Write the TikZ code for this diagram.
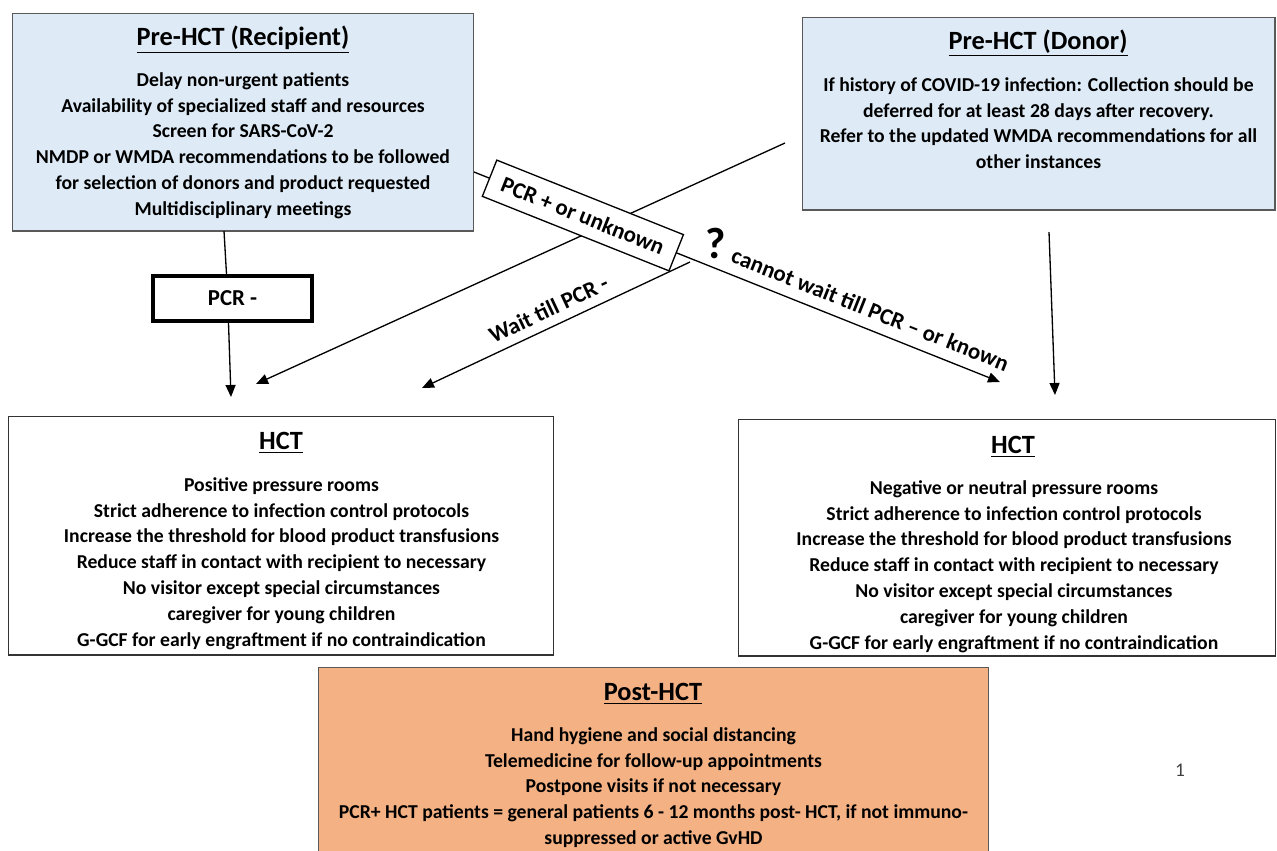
\documentclass[tikz,border=0pt]{standalone}
\usepackage{fontspec}
\setmainfont{Carlito}
\usetikzlibrary{arrows.meta,calc}
\definecolor{preblue}{HTML}{DEEBF7}
\definecolor{postorange}{HTML}{F4B183}
\definecolor{boxgray}{HTML}{595959}
\begin{document}
\begin{tikzpicture}[x=0.02cm, y=-0.02cm,
    panel/.style={draw=boxgray, line width=0.6pt, inner sep=0pt},
    title/.style={font=\fontsize{15}{18}\selectfont\bfseries},
    body/.style={font=\fontsize{11.2}{14.7}\selectfont\bfseries, align=center, inner sep=0pt, anchor=north},
    tag/.style={font=\fontsize{13}{15}\selectfont\bfseries},
    link/.style={line width=0.75pt, -{Triangle[length=0.24cm, width=0.2cm]}}]
    \clip (0,0) rectangle (1277,850);
    \node[panel, fill=preblue, minimum width=9.24cm, minimum height=4.36cm] (rec) at (243,122) {};
    \node[title] (rectitle) at (243,40) {\underline{Pre-HCT (Recipient)}};
    \node[body] (recbody) at (243,72) {Delay non-urgent patients\\Availability of specialized staff and resources\\Screen for SARS-CoV-2\\NMDP or WMDA recommendations to be followed\\for selection of donors and product requested\\Multidisciplinary meetings};
    \node[panel, fill=preblue, minimum width=9.46cm, minimum height=3.86cm] (don) at (1038.5,113.5) {};
    \node[title] (dontitle) at (1038,43) {\underline{Pre-HCT (Donor)}};
    \node[body] (donbody) at (1038.5,77) {If history of COVID-19 infection: Collection should be\\deferred for at least 28 days after recovery.\\Refer to the updated WMDA recommendations for all\\other instances};
    \node[panel, draw=black!80, minimum width=10.92cm, minimum height=4.78cm] (hctl) at (281,535.5) {};
    \node[title] (hctltitle) at (281,443) {\underline{HCT}};
    \node[body] (hctlbody) at (281.5,477) {Positive pressure rooms\\Strict adherence to infection control protocols\\Increase the threshold for blood product transfusions\\Reduce staff in contact with recipient to necessary\\No visitor except special circumstances\\caregiver for young children\\G-GCF for early engraftment if no contraindication};
    \node[panel, draw=black!80, minimum width=10.76cm, minimum height=4.74cm] (hctr) at (1007,537.5) {};
    \node[title] (hctrtitle) at (1013,447) {\underline{HCT}};
    \node[body] (hctrbody) at (1014,480) {Negative or neutral pressure rooms\\Strict adherence to infection control protocols\\Increase the threshold for blood product transfusions\\Reduce staff in contact with recipient to necessary\\No visitor except special circumstances\\caregiver for young children\\G-GCF for early engraftment if no contraindication};
    \node[panel, fill=postorange, minimum width=13.42cm, minimum height=4.06cm] (post) at (653.5,768.5) {};
    \node[title] (posttitle) at (653,694) {\underline{Post-HCT}};
    \node[body] (postbody) at (653.5,727) {Hand hygiene and social distancing\\Telemedicine for follow-up appointments\\Postpone visits if not necessary\\PCR+ HCT patients = general patients 6 - 12 months post- HCT, if not immuno-\\suppressed or active GvHD};
    \node[draw, line width=2.2pt, minimum width=3.18cm, minimum height=0.9cm, tag] (pcrneg) at (232.5,298.5) {PCR -};
    \node[font=\fontsize{25}{28}\selectfont\bfseries] (qmark) at (716,243) {?};
    \node[font=\fontsize{11}{13}\selectfont, text=black!75] (pagenum) at (1180,770) {1};

    \coordinate (recdown) at (224,231);
    \coordinate (pcrin) at (231,397);
    \coordinate (crossstart) at (785,143);
    \coordinate (hctlin) at (256,384);
    \coordinate (waitstart) at (690,262);
    \coordinate (waitend) at (422,388);
    \coordinate (recout) at (474,172);
    \coordinate (hctrin) at (1000,382);
    \coordinate (donout) at (1049,232);
    \coordinate (donin) at (1055,395);

    \draw[line width=0.75pt] (recdown) -- ($(pcrneg.north)+(-6,0)$);
    \draw[link] ($(pcrneg.south)+(-4,0)$) -- (pcrin);
    \draw[link] (crossstart) -- (hctlin);
    \draw[link] (waitstart) -- node[tag, sloped, above=3pt, inner sep=2pt, pos=0.50] (waitlabel) {Wait till PCR -} (waitend);
    \draw[link] (recout) -- node[tag, sloped, pos=0.207, draw, fill=white, line width=0.75pt, minimum width=4.02cm, minimum height=0.78cm] (pcrpos) {PCR + or unknown} node[tag, sloped, above=5pt, pos=0.74, inner sep=1pt] (cannotlabel) {cannot wait till PCR – or known} (hctrin);
    \draw[link] (donout) -- (donin);
\end{tikzpicture}
\end{document}
